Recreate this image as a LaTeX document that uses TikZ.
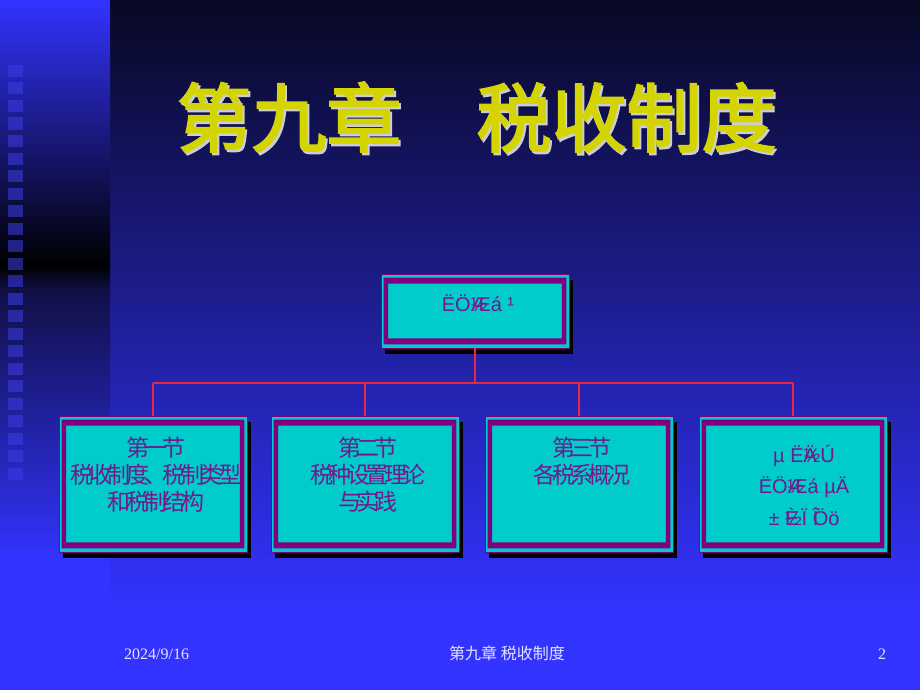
\documentclass[tikz,border=0pt]{standalone}
\usepackage{fontspec}
\setmainfont{Liberation Serif}
\newfontfamily\cjk{Noto Sans CJK SC}
\newfontfamily\cjktitle{Noto Sans CJK SC}[FakeBold=2.5]
\newfontfamily\cjkbox{Noto Sans CJK SC}[LetterSpace=-20]
\newfontfamily\arial{Liberation Sans}
\usetikzlibrary{shadows}
\definecolor{bgblue}{RGB}{51,51,255}
\definecolor{bgtop}{RGB}{8,8,36}
\definecolor{stripdark}{RGB}{16,16,70}
\definecolor{sqblue}{RGB}{60,60,230}
\definecolor{boxcyan}{RGB}{0,204,204}
\definecolor{boxpurple}{RGB}{128,0,128}
\definecolor{txtpurple}{RGB}{115,25,140}
\definecolor{conred}{RGB}{232,40,64}
\definecolor{titleyellow}{RGB}{212,212,0}
\definecolor{titleshade}{RGB}{205,205,215}
\definecolor{foot}{RGB}{228,228,255}
\tikzset{
  orgbox/.style={draw=boxpurple, line width=0.8pt, fill=boxcyan, inner sep=0pt,
    minimum width=188pt, minimum height=136pt,
    drop shadow={shadow xshift=4pt, shadow yshift=-6pt, opacity=1, fill=black}},
  cjktext/.style={text=txtpurple, align=center, inner sep=0pt, anchor=north,
    font=\cjkbox\fontsize{23}{27}\selectfont},
  lattext/.style={text=txtpurple, align=center, inner sep=0pt,
    font=\arial\fontsize{20}{31.5}\selectfont},
  conn/.style={draw=conred, line width=1.6pt},
  sq/.style={fill=sqblue, fill opacity=0.55},
  foottext/.style={text=foot, inner sep=0pt, font=\fontsize{16}{18}\selectfont},
  titletext/.style={inner sep=0pt, anchor=base, font=\cjktitle\fontsize{75}{80}\selectfont}
}
\begin{document}
\begin{tikzpicture}[x=1pt,y=-1pt]
\useasboundingbox (0,0) rectangle (920,690);
% background
\fill[bgblue] (0,0) rectangle (920,690);
\shade[top color=bgtop, bottom color=bgblue] (110,0) rectangle (920,610);
\shade[top color=bgblue, bottom color=black] (0,0) rectangle (110,265);
\shade[top color=black, bottom color=stripdark] (0,265) rectangle (110,290);
\shade[top color=stripdark, bottom color=bgblue] (0,290) rectangle (110,560);
\foreach \i in {0,...,23} \fill[sq] (8,{65+17.5*\i}) rectangle ++(15,12);
% title
\node[titletext, text=titleshade] (titleshadow) at (478.5,148.5) {第九章　税收制度};
\node[titletext, text=titleyellow] (title) at (476.5,146) {第九章　税收制度};
% boxes
\node[orgbox, minimum height=74pt] (top) at (475,311) {};
\node[orgbox] (b1) at (153,484) {};
\node[orgbox] (b2) at (365,484) {};
\node[orgbox] (b3) at (579,484) {};
\node[orgbox] (b4) at (793,484) {};
\foreach \b in {top,b1,b2,b3,b4}
  \fill[boxpurple, even odd rule]
    ([shift={(3pt,-4pt)}]\b.north west) rectangle ([shift={(-3pt,4pt)}]\b.south east)
    ([shift={(7.5pt,-10pt)}]\b.north west) rectangle ([shift={(-7.5pt,10pt)}]\b.south east);
% connectors
\coordinate (hl) at (153,383);
\coordinate (hr) at (793,383);
\draw[conn] (hl) -- (hr);
\draw[conn] (top.south) -- (top.south |- hl);
\foreach \b in {b1,b2,b3,b4} \draw[conn] (\b.north |- hl) -- (\b.north);
% texts
\node[lattext, anchor=base] (toptext) at (478,311) {ËÖ\rlap{½}Æá ¹};
\node[cjktext] (t1) at (156,434) {\rule{0pt}{22pt}第一节\\税收制度、税制类型\\和税制结构};
\node[cjktext] (t2) at (368,434) {\rule{0pt}{22pt}第二节\\税种设置理论\\与实践};
\node[cjktext] (t3) at (582,434) {\rule{0pt}{22pt}第三节\\各税系概况};
\node[lattext, anchor=north] (t4) at (804,442) {\rule{0pt}{20pt}µ Ë\rlap{Ä}½Ú\\ËÖ\rlap{½}Æá µÄ\\± \rlap{È}½Ï \rlap{Î}Öö};
% footer
\node[foottext, anchor=base west] (date) at (124,659) {2024/9/16};
\node[foottext, anchor=base, font=\cjk\fontsize{16}{18}\selectfont] (foottitle) at (507,659) {第九章 税收制度};
\node[foottext, anchor=base] (page) at (882,659) {2};
\end{tikzpicture}
\end{document}
